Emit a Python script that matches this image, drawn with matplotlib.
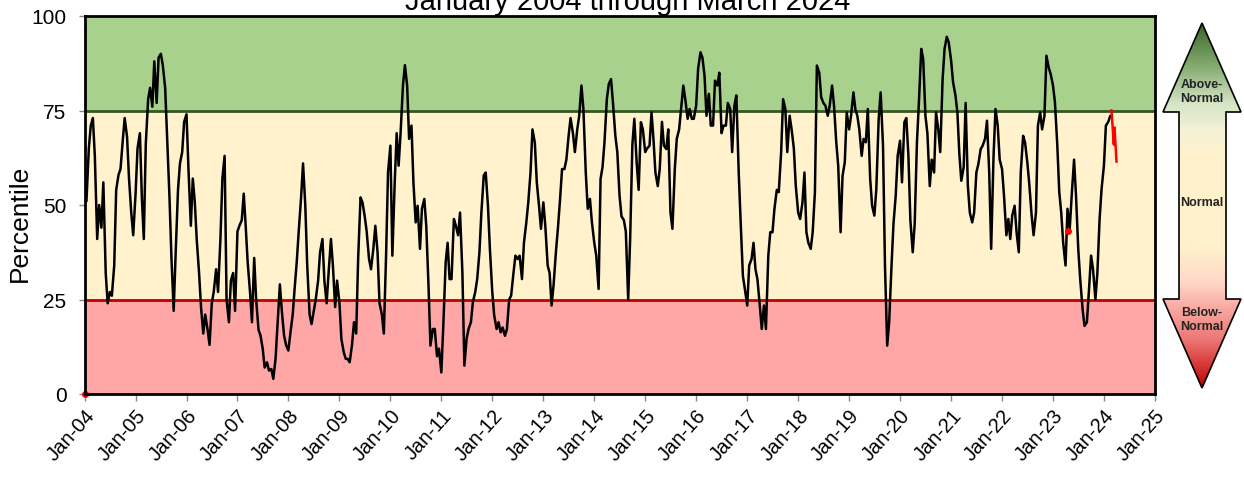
import numpy as np
import pandas as pd
import matplotlib
matplotlib.use('Agg')
import matplotlib.pyplot as plt
import matplotlib.dates as mdates
from matplotlib.colors import LinearSegmentedColormap
from matplotlib.patches import Polygon

plt.rcParams['font.family'] = ['Liberation Sans', 'DejaVu Sans']

W, H = 1244, 481          # output size in pixels
DPI = 100

TITLE = 'January 2004 through March 2024'
YLABEL = 'Percentile'

# semi-monthly percentile values, starting Jan 2004
pct = [
    55, 51, 65, 71, 73, 63, 41, 50, 44, 56,
    32, 24, 27, 26, 34, 54, 58, 59.5, 67, 73,
    68, 57, 48, 42, 53, 65, 69, 52, 41, 66,
    78, 81, 76, 88, 77, 89, 90, 87, 81, 68,
    52, 36, 22, 37, 54, 61, 64, 72, 74, 59.5,
    44.5, 57, 51, 41, 32, 23, 16, 21, 17, 13,
    24, 27, 33, 27, 41, 57, 63, 25, 19, 30,
    32, 22, 43, 44.5, 46, 53, 44.5, 35, 27, 19,
    36, 25, 17, 15.5, 12, 7, 8.4, 6.2, 6.6, 4,
    9.3, 18, 29, 22, 15.5, 13, 11.5, 16, 21, 28,
    35, 43, 52, 61, 50, 34, 21, 18.5, 22, 25,
    30, 37.5, 41, 30, 24, 32, 41, 34, 23, 30,
    24, 14.5, 11, 9.3, 9.3, 8.4, 13, 19, 16, 36,
    52, 50.7, 47, 43, 35.7, 33, 38.5, 44.5, 37.5, 24,
    21, 16, 36.6, 58.6, 65.7, 36.6, 56, 69, 60.4, 69,
    81.6, 87, 81.6, 67.5, 71, 56, 45.4, 49.8, 38.4, 49,
    51.6, 44.5, 28.7, 12.8, 17.2, 17.2, 10, 12, 5.7, 18,
    34.8, 40, 30.4, 30.4, 46.3, 44.5, 42, 48, 32, 7.5,
    14.6, 17.2, 19, 24.3, 27, 30.4, 37.5, 48, 57.8, 58.6,
    49.8, 38.4, 27, 20.7, 17.2, 19, 16.3, 17.6, 15.4, 17.2,
    25, 26, 32, 36.6, 35.7, 36.6, 30.4, 40, 45.4, 50.7,
    58.6, 70, 66.5, 56, 49.8, 43.7, 50.7, 44.5, 34, 32,
    23.4, 28.7, 37.5, 43.7, 51.6, 59.5, 59.5, 62, 68.3, 73,
    69, 64, 70, 73.6, 81.6, 75.4, 58.6, 49, 51.6, 45.4,
    40, 36.6, 27.8, 56.9, 60, 66.5, 78, 82, 83.3, 77,
    68.3, 64, 52.5, 47, 46, 43, 25, 41, 66, 72.8,
    61, 54, 71.9, 70, 64, 65, 65.7, 74.5, 67.5, 58.6,
    55, 59.5, 72, 65.7, 64.8, 70, 48, 43.7, 59.5, 67.5,
    70, 75.4, 81.6, 78, 72.8, 75.4, 72.8, 72.8, 76.3, 86,
    90.4, 89, 84.2, 73.6, 79.4, 71, 71, 82.9, 81.6, 85,
    69, 71, 71, 77, 75.4, 64, 76.3, 79, 58.6, 45.4,
    31.2, 27.8, 23.4, 34, 35.7, 40, 33, 30.4, 23.4, 17.2,
    23.4, 17.2, 36.6, 42.8, 42.8, 49, 54, 53.4, 64, 78,
    75.4, 64, 73.6, 70, 65, 55, 48, 46.3, 50.7, 58.6,
    42.8, 40, 38.4, 42.8, 53.4, 86.9, 85, 78.5, 77, 76.3,
    73.6, 76.3, 81.6, 76.3, 66.6, 60.4, 42.8, 57.7, 61.3, 74.5,
    70, 73.6, 79.8, 75.3, 73.6, 70, 63, 67.5, 66.6, 75.4,
    56.9, 49.8, 47.2, 54.2, 72.8, 79.8, 65.7, 34, 12.8, 19,
    34, 45, 52.5, 63, 67, 56, 71.9, 73, 63, 46,
    37.5, 45, 66.5, 77, 91.3, 88.6, 73.6, 69, 55, 62,
    58.6, 74.5, 70, 64, 83.3, 91.3, 94.5, 93, 88.2, 82.5,
    79, 74.5, 63.5, 56.4, 60, 77, 55, 48, 45.4, 48,
    58.6, 60.8, 64.8, 65.7, 67.5, 72.3, 58.6, 38.4, 63, 75.4,
    71, 62, 59.5, 52.5, 42, 46.3, 41, 47.2, 49.8, 42.8,
    37.5, 58.6, 68.3, 66.5, 61.3, 55.6, 47.2, 42, 48, 71,
    74.5, 70, 73.6, 89.5, 86.4, 84.7, 81.6, 77.2, 65.7, 53.4,
    48, 40, 34, 49, 43.7, 52.5, 62, 52.5, 38.4, 30.4,
    22.5, 18, 19, 27, 36.6, 33, 25, 32, 46.3, 54.2,
    60.4, 71, 72, 73.5,
]

# provisional values at the end of the record (red)
recent_dates = ['2024-02-24', '2024-03-12', '2024-03-17', '2024-03-31']
recent_pct = [75, 66, 70.5, 61.5]

# isolated provisional points (red dots)
flag_dates = ['2004-01-01', '2023-04-20']
flag_pct = [0, 43]

# percentile bands: (low, high, fill colour, boundary line colour)
bands = [(0, 25, '#ffa6a6', '#c00000'),
         (25, 75, '#fff2cc', '#375623'),
         (75, 100, '#a9d18e', None)]

arrow_labels = ['Above-\nNormal', 'Normal', 'Below-\nNormal']

dates = pd.date_range('2004-01-01', periods=len(pct), freq='SMS')

fig = plt.figure(figsize=(W / DPI, H / DPI), dpi=DPI)
ax = fig.add_axes([84.5 / W, 1 - 395 / H, (1155 - 84.5) / W, (395 - 17) / H])

for lo, hi, fill, edge in bands:
    ax.axhspan(lo, hi, color=fill, zorder=0, lw=0)
    if edge is not None:
        ax.axhline(hi, color=edge, lw=2, zorder=1)

ax.plot(dates, pct, color='black', lw=1.8, zorder=3)
ax.plot(pd.to_datetime(recent_dates), recent_pct, color='#ff0000', lw=1.8, zorder=3)
ax.plot(pd.to_datetime(flag_dates), flag_pct, 'o', color='#ff0000', ms=4,
        zorder=4, clip_on=False)

ax.set_ylim(0, 100)
ax.set_yticks([0, 25, 50, 75, 100])
ax.set_xlim(pd.Timestamp('2004-01-01'), pd.Timestamp('2025-01-01'))
ax.xaxis.set_major_locator(mdates.YearLocator())
ax.xaxis.set_major_formatter(mdates.DateFormatter('%b-%y'))

ax.tick_params(axis='y', labelsize=15, length=4, width=1, color='#888888', pad=9)
ax.tick_params(axis='x', labelsize=14.5, length=5, width=1, color='#888888', pad=3)
for lab in ax.get_xticklabels():
    lab.set_rotation(48)
    lab.set_ha('right')
    lab.set_rotation_mode('anchor')

for sp in ax.spines.values():
    sp.set_linewidth(2)
    sp.set_color('black')
    sp.set_zorder(5)

fig.text(20 / W, 1 - 223 / H, YLABEL, rotation=90, fontsize=19,
         ha='center', va='center')
# title sits partly above the top edge of the canvas
fig.text(628 / W, 1 - 10.5 / H, TITLE, fontsize=21, ha='center', va='baseline')

# double-headed colour arrow on the right
over = fig.add_axes([0, 0, 1, 1])
over.set_xlim(0, W)
over.set_ylim(H, 0)
over.axis('off')

cx, tip_top, tip_bot = 1202, 24, 389
head_l, head_r, shaft_l, shaft_r = 1163, 1241, 1179, 1226
neck_top, neck_bot = 113, 300
outline = [(cx, tip_top), (head_r, neck_top), (shaft_r, neck_top),
           (shaft_r, neck_bot), (head_r, neck_bot), (cx, tip_bot),
           (head_l, neck_bot), (shaft_l, neck_bot), (shaft_l, neck_top),
           (head_l, neck_top)]
poly = Polygon(outline, closed=True, facecolor='none', edgecolor='black',
               lw=1.2, zorder=3)
over.add_patch(poly)

stops = [(0.0, '#3a6629'), (0.12, '#86ad72'), (0.22, '#d6e5c6'),
         (0.29, '#f4f1d6'), (0.36, '#fff2cc'), (0.62, '#fff0cc'),
         (0.71, '#ffd8c8'), (0.76, '#fbb6ae'), (0.87, '#ec7674'),
         (1.0, '#c00000')]
cmap = LinearSegmentedColormap.from_list('arrow', stops)
grad = np.linspace(0, 1, 512).reshape(-1, 1)
im = over.imshow(grad, cmap=cmap, aspect='auto', origin='upper',
                 extent=(head_l, head_r, tip_bot, tip_top), zorder=2)
im.set_clip_path(poly)
over.set_xlim(0, W)
over.set_ylim(H, 0)

for label, yc in zip(arrow_labels, [92, 203, 320]):
    over.text(cx, yc, label, ha='center', va='center', fontsize=9,
              fontweight='bold', color='#222222', linespacing=1.15, zorder=4)

fig.savefig('out.png', dpi=DPI)
